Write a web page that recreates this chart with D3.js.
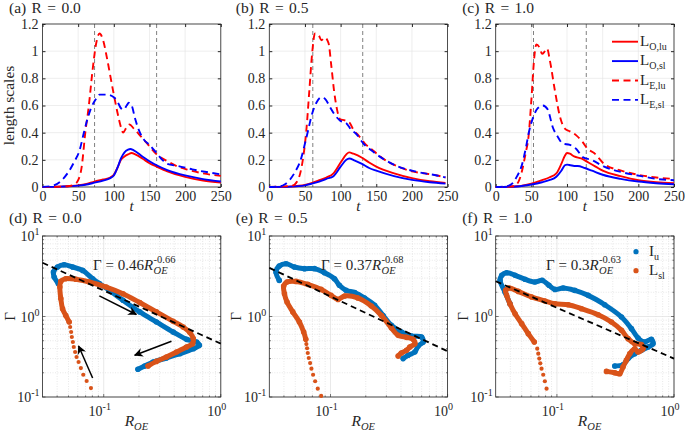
<!DOCTYPE html>
<html><head><meta charset="utf-8">
<script src="https://cdn.jsdelivr.net/npm/d3@7"></script>
<style>
body{margin:0;background:#fff}
</style>
</head><body><svg id="c" width="685" height="434"></svg>
<script>
// ---------- top panels: length scales vs t ----------
const panelTitlesTop = ["(a) R = 0.0", "(b) R = 0.5", "(c) R = 1.0"];
const panelTitlesBot = ["(d) R = 0.0", "(e) R = 0.5", "(f) R = 1.0"];
const tTicks = [0, 50, 100, 150, 200, 250];
const lTicks = [0, 0.2, 0.4, 0.6, 0.8, 1, 1.2];

// panel a
const a_LOlu = [[0,0],[25,0.003],[50,0.012],[60,0.02],[73,0.04],[85,0.055],[95,0.07],[100,0.09],[105,0.14],[110,0.2],[115,0.225],[120,0.24],[125,0.25],[130,0.24],[140,0.21],[150,0.175],[160,0.15],[175,0.115],[200,0.075],[225,0.048],[250,0.032]];
const a_LOsl = [[0,0],[25,0.003],[50,0.01],[60,0.017],[73,0.032],[85,0.047],[95,0.065],[100,0.085],[105,0.14],[110,0.21],[115,0.255],[120,0.275],[123,0.28],[128,0.27],[140,0.225],[150,0.19],[160,0.16],[175,0.125],[200,0.085],[225,0.058],[250,0.04]];
const a_LElu = [[0,0],[35,0.005],[45,0.02],[50,0.05],[55,0.15],[60,0.4],[65,0.6],[70,0.85],[75,1.05],[80,1.13],[85,1.08],[90,0.96],[95,0.82],[100,0.68],[105,0.55],[110,0.44],[113,0.4],[118,0.44],[122,0.46],[128,0.43],[135,0.39],[145,0.33],[160,0.24],[175,0.19],[190,0.15],[205,0.125],[225,0.1],[250,0.082]];
const a_LEsl = [[0,0],[15,0.01],[25,0.04],[35,0.1],[45,0.19],[52,0.27],[58,0.4],[63,0.5],[68,0.58],[74,0.64],[80,0.68],[90,0.68],[100,0.66],[105,0.63],[110,0.58],[114,0.57],[118,0.6],[121,0.62],[125,0.6],[130,0.5],[135,0.42],[142,0.35],[150,0.31],[160,0.25],[168,0.2],[175,0.17],[190,0.155],[210,0.13],[230,0.11],[250,0.093]];
const a_vlines = [73, 160];

// panel b
const b_LOlu = [[0,0],[30,0.004],[50,0.015],[60,0.03],[70,0.05],[80,0.07],[90,0.1],[100,0.18],[108,0.24],[112,0.255],[118,0.245],[130,0.215],[140,0.18],[150,0.15],[175,0.1],[200,0.065],[225,0.042],[247,0.03]];
const b_LOsl = [[0,0],[30,0.003],[50,0.012],[60,0.025],[70,0.04],[80,0.06],[90,0.08],[100,0.15],[108,0.2],[112,0.21],[120,0.195],[130,0.17],[140,0.14],[150,0.12],[175,0.08],[200,0.052],[225,0.035],[247,0.025]];
const b_LElu = [[0,0],[32,0.01],[40,0.05],[47,0.2],[52,0.42],[56,0.7],[60,0.98],[64,1.13],[69,1.12],[73,1.08],[78,1.1],[83,1.06],[87,0.89],[91,0.7],[95,0.57],[99,0.5],[106,0.49],[113,0.47],[118,0.42],[125,0.38],[134,0.32],[143,0.28],[162,0.2],[181,0.15],[200,0.115],[218,0.1],[235,0.085],[247,0.07]];
const b_LEsl = [[0,0],[15,0.005],[22,0.02],[36,0.11],[44,0.2],[50,0.32],[55,0.43],[59,0.52],[66,0.62],[73,0.66],[78,0.65],[85,0.59],[92,0.53],[99,0.49],[108,0.47],[115,0.42],[122,0.39],[132,0.32],[143,0.27],[162,0.2],[181,0.15],[200,0.12],[218,0.1],[235,0.085],[247,0.07]];
const b_vlines = [61, 131];

// panel c
const c_LOlu = [[0,0],[30,0.005],[50,0.025],[65,0.05],[75,0.07],[85,0.1],[92,0.17],[97,0.23],[100,0.25],[104,0.245],[110,0.225],[120,0.21],[130,0.18],[140,0.15],[150,0.12],[175,0.08],[200,0.05],[225,0.035],[250,0.028]];
const c_LOsl = [[0,0],[30,0.004],[50,0.018],[65,0.035],[75,0.05],[85,0.075],[92,0.12],[97,0.16],[100,0.165],[105,0.16],[110,0.155],[115,0.155],[125,0.14],[135,0.12],[150,0.09],[175,0.06],[200,0.04],[225,0.028],[250,0.02]];
const c_LElu = [[0,0],[25,0.005],[32,0.04],[36,0.1],[42,0.25],[46,0.37],[50,0.64],[54,0.95],[57,1.05],[62,1.02],[65,0.98],[69,1.0],[72,1.02],[76,0.93],[83,0.71],[90,0.52],[97,0.43],[104,0.41],[113,0.38],[122,0.33],[129,0.28],[138,0.25],[152,0.17],[176,0.12],[204,0.086],[225,0.07],[250,0.06]];
const c_LEsl = [[0,0],[15,0.005],[22,0.02],[30,0.08],[36,0.15],[42,0.28],[46,0.39],[53,0.52],[59,0.58],[66,0.6],[73,0.57],[80,0.44],[87,0.37],[94,0.32],[104,0.31],[113,0.28],[122,0.22],[134,0.2],[152,0.15],[176,0.11],[204,0.08],[225,0.06],[250,0.05]];
const c_vlines = [53, 127];

const legendTop = [["O,lu","#ff0000",false],["O,sl","#0000ff",false],["E,lu","#ff0000",true],["E,sl","#0000ff",true]];

// ---------- bottom panels: Gamma vs R_OE ----------
const d_lu = [[0.041,2.56],[0.0377,3.1],[0.0372,3.57],[0.0403,4.12],[0.0459,4.4],[0.0542,4.12],[0.066,3.74],[0.0804,2.95],[0.0918,2.56],[0.112,2.11],[0.146,1.59],[0.203,1.14],[0.282,0.855],[0.392,0.642],[0.51,0.52],[0.622,0.482],[0.656,0.438],[0.582,0.398],[0.447,0.345],[0.343,0.305],[0.264,0.272],[0.224,0.243],[0.196,0.221]];
const d_sl = [[0.0507,0.855],[0.0474,1.03],[0.0445,1.25],[0.043,1.67],[0.0422,2.32],[0.043,2.73],[0.0474,2.95],[0.0578,2.9],[0.0753,2.68],[0.105,2.32],[0.146,1.92],[0.203,1.49],[0.282,1.14],[0.392,0.871],[0.477,0.741],[0.545,0.631],[0.582,0.531],[0.574,0.46],[0.51,0.418],[0.419,0.362],[0.343,0.314],[0.282,0.277],[0.239,0.243]];
const d_slTail = [[0.0778,0.129],[0.0715,0.158],[0.0669,0.189],[0.0638,0.229],[0.061,0.272],[0.0586,0.314],[0.057,0.362],[0.0555,0.418],[0.0545,0.482],[0.0534,0.556],[0.0527,0.642],[0.0517,0.741]];
const d_fit = [[0.03,4.65],[1,0.46]];
const d_arrows = [[[0.0918,1.8],[0.19,1.06]],[[0.379,0.492],[0.184,0.33]],[[0.0804,0.172],[0.061,0.43]]];

const e_lu = [[0.0365,2.81],[0.0342,3.57],[0.0365,4.24],[0.0417,4.53],[0.0491,4.12],[0.0598,3.93],[0.0729,3.93],[0.0889,3.5],[0.108,2.95],[0.119,2.44],[0.136,2.11],[0.161,1.98],[0.195,1.7],[0.238,1.38],[0.281,1.03],[0.331,0.776],[0.403,0.642],[0.491,0.573],[0.599,0.556],[0.619,0.482],[0.561,0.43],[0.525,0.362],[0.46,0.33],[0.417,0.3]];
const e_sl = [[0.0615,0.52],[0.059,0.642],[0.0542,0.855],[0.0476,1.14],[0.0425,1.51],[0.0404,1.92],[0.0398,2.39],[0.0425,2.68],[0.0508,2.73],[0.064,2.51],[0.0832,2.17],[0.101,1.83],[0.116,1.63],[0.132,1.8],[0.171,1.7],[0.223,1.35],[0.272,1.03],[0.331,0.72],[0.378,0.583],[0.446,0.551],[0.508,0.52],[0.525,0.46],[0.476,0.418],[0.446,0.38],[0.403,0.352],[0.378,0.323]];
const e_slTail = [[0.0832,0.103],[0.0778,0.127],[0.0739,0.157],[0.071,0.189],[0.0687,0.225],[0.067,0.264],[0.0652,0.305],[0.0639,0.352],[0.0631,0.403],[0.0622,0.455]];
const e_fit = [[0.03,4.02],[1,0.37]];

const f_lu = [[0.0397,1.44],[0.036,2.01],[0.0327,2.81],[0.0338,3.25],[0.0372,3.5],[0.0439,3.25],[0.0534,2.9],[0.0649,2.68],[0.075,2.81],[0.0855,2.44],[0.0962,2.17],[0.113,2.26],[0.142,2.11],[0.185,1.83],[0.256,1.4],[0.356,0.986],[0.433,0.706],[0.493,0.541],[0.562,0.482],[0.641,0.52],[0.662,0.46],[0.6,0.418],[0.526,0.38],[0.462,0.345],[0.405,0.3],[0.367,0.252],[0.312,0.243]];
const f_sl = [[0.0641,0.482],[0.0569,0.612],[0.05,0.815],[0.0439,1.08],[0.0397,1.44],[0.0372,1.83],[0.0365,2.11],[0.039,2.26],[0.0468,2.05],[0.0608,1.75],[0.0789,1.56],[0.0962,1.44],[0.125,1.4],[0.162,1.25],[0.225,1.05],[0.292,0.855],[0.356,0.673],[0.405,0.531],[0.462,0.46],[0.526,0.447],[0.544,0.398],[0.493,0.362],[0.462,0.398],[0.419,0.345],[0.392,0.286],[0.367,0.236],[0.344,0.195],[0.312,0.2],[0.265,0.208]];
const f_slTail = [[0.0816,0.127],[0.0789,0.157],[0.0764,0.189],[0.0739,0.225],[0.0721,0.262],[0.0707,0.3],[0.0693,0.345],[0.0679,0.398]];
const f_fit = [[0.03,2.74],[1,0.3]];

const fitLabels = [["0.46","-0.66"],["0.37","-0.68"],["0.3","-0.63"]];
const legendBot = [["I","u","#0072BD"],["L","sl","#D95319"]];

// ---------- layout ----------
const FONT = "Liberation Serif";
const svg = d3.select("#c");
const W = 178.3;
const lefts = [42.5, 269.3, 495.7];
const topT = 24, topB = 187, botT = 236, botB = 397;
const AX = "#262626";
const fs = 14;

const defs = svg.append("defs");
defs.append("marker").attr("id","arrow").attr("viewBox","0 0 10 10").attr("refX",9).attr("refY",5)
  .attr("markerWidth",9).attr("markerHeight",9).attr("markerUnits","userSpaceOnUse").attr("orient","auto")
  .append("path").attr("d","M0,0 L10,5 L0,10 L3,5 Z").attr("fill","#000");

function topPanel(i, data, vlines) {
  const l = lefts[i];
  const x = d3.scaleLinear([0,250],[l,l+W]);
  const y = d3.scaleLinear([0,1.2],[topB,topT]);
  const g = svg.append("g");
  g.selectAll(".gx").data(tTicks).join("line").attr("x1",d=>x(d)).attr("x2",d=>x(d)).attr("y1",topT).attr("y2",topB).attr("stroke","#e3e3e3").attr("stroke-width",0.6);
  g.selectAll(".gy").data(lTicks).join("line").attr("y1",d=>y(d)).attr("y2",d=>y(d)).attr("x1",l).attr("x2",l+W).attr("stroke","#e3e3e3").attr("stroke-width",0.6);
  g.selectAll(".vl").data(vlines).join("line").attr("x1",d=>x(d)).attr("x2",d=>x(d)).attr("y1",topT).attr("y2",topB)
    .attr("stroke","#808080").attr("stroke-width",1).attr("stroke-dasharray","4,3");
  const ax = (gen, tr) => { const a = g.append("g").attr("transform",tr).call(gen); a.attr("font-family",FONT); a.select(".domain").remove(); a.selectAll("line").attr("stroke",AX); a.selectAll("text").attr("font-size",fs).attr("fill",AX); return a; };
  ax(d3.axisBottom(x).tickValues(tTicks).tickSize(-3).tickPadding(4).tickFormat(d3.format("d")), `translate(0,${topB})`);
  ax(d3.axisTop(x).tickValues(tTicks).tickSize(-3).tickFormat(""), `translate(0,${topT})`);
  ax(d3.axisLeft(y).tickValues(lTicks).tickSize(-3).tickPadding(4).tickFormat(d=>d3.format("~g")(d)), `translate(${l},0)`);
  ax(d3.axisRight(y).tickValues(lTicks).tickSize(-3).tickFormat(""), `translate(${l+W},0)`);
  g.append("rect").attr("x",l).attr("y",topT).attr("width",W).attr("height",topB-topT).attr("fill","none").attr("stroke",AX).attr("stroke-width",0.8);
  const line = d3.line().x(d=>x(d[0])).y(d=>y(d[1])).curve(d3.curveMonotoneX);
  const styles = [["#ff0000",null],["#0000ff",null],["#ff0000","7,4.5"],["#0000ff","7,4.5"]];
  data.forEach((s,k)=>{
    g.append("path").datum(s).attr("d",line).attr("fill","none").attr("stroke",styles[k][0]).attr("stroke-width",1.9)
      .attr("stroke-dasharray",styles[k][1]);
  });
  svg.append("text").attr("x",l-33.5).attr("y",13).attr("font-size",15.5).attr("word-spacing",1.5).text(panelTitlesTop[i]);
  svg.append("text").attr("x",l+W/2).attr("y",211).attr("text-anchor","middle").attr("font-size",15).attr("font-style","italic").text("t");
  if (i===0) svg.append("text").attr("transform",`translate(14,${(topT+topB)/2}) rotate(-90)`).attr("text-anchor","middle").attr("font-size",15.5).text("length scales");
}

topPanel(0,[a_LOlu,a_LOsl,a_LElu,a_LEsl],a_vlines);
topPanel(1,[b_LOlu,b_LOsl,b_LElu,b_LEsl],b_vlines);
topPanel(2,[c_LOlu,c_LOsl,c_LElu,c_LEsl],c_vlines);

legendTop.forEach((d,k)=>{
  const yy = 41.7 + k*19.4;
  svg.append("line").attr("x1",612).attr("x2",638).attr("y1",yy).attr("y2",yy).attr("stroke",d[1]).attr("stroke-width",1.9).attr("stroke-dasharray",d[2]?"7,4.5":null);
  const t = svg.append("text").attr("x",640).attr("y",yy+4).attr("font-size",15);
  t.append("tspan").text("L");
  t.append("tspan").attr("dy",4).attr("font-size",10).text(d[0]);
});

function supLabel(sel, base, sup) {
  sel.append("tspan").text(base);
  sel.append("tspan").attr("dy",-6).attr("font-size",10).text(sup);
}

function botPanel(i, lu, sl, tail, fit, arrows) {
  const l = lefts[i];
  const x = d3.scaleLog([0.03,1],[l,l+W]);
  const y = d3.scaleLog([0.1,10],[botB,botT]);
  const g = svg.append("g");
  const xMinor = [0.04,0.05,0.06,0.07,0.08,0.09,0.2,0.3,0.4,0.5,0.6,0.7,0.8,0.9];
  const yMinor = [0.2,0.3,0.4,0.5,0.6,0.7,0.8,0.9,2,3,4,5,6,7,8,9];
  const xMajor = [0.1,1], yMajor = [0.1,1,10];
  g.selectAll(".mx").data(xMinor).join("line").attr("x1",d=>x(d)).attr("x2",d=>x(d)).attr("y1",botT).attr("y2",botB).attr("stroke","#d8d8d8").attr("stroke-width",0.6).attr("stroke-dasharray","1,1.5");
  g.selectAll(".my").data(yMinor).join("line").attr("y1",d=>y(d)).attr("y2",d=>y(d)).attr("x1",l).attr("x2",l+W).attr("stroke","#d8d8d8").attr("stroke-width",0.6).attr("stroke-dasharray","1,1.5");
  g.selectAll(".Mx").data(xMajor).join("line").attr("x1",d=>x(d)).attr("x2",d=>x(d)).attr("y1",botT).attr("y2",botB).attr("stroke","#e0e0e0").attr("stroke-width",0.7);
  g.selectAll(".My").data(yMajor).join("line").attr("y1",d=>y(d)).attr("y2",d=>y(d)).attr("x1",l).attr("x2",l+W).attr("stroke","#e0e0e0").attr("stroke-width",0.7);
  const tk = (vals, len, horiz) => vals.forEach(v=>{
    if (horiz) { g.append("line").attr("x1",x(v)).attr("x2",x(v)).attr("y1",botB).attr("y2",botB-len).attr("stroke",AX).attr("stroke-width",0.6);
                 g.append("line").attr("x1",x(v)).attr("x2",x(v)).attr("y1",botT).attr("y2",botT+len).attr("stroke",AX).attr("stroke-width",0.6); }
    else { g.append("line").attr("y1",y(v)).attr("y2",y(v)).attr("x1",l).attr("x2",l+len).attr("stroke",AX).attr("stroke-width",0.6);
           g.append("line").attr("y1",y(v)).attr("y2",y(v)).attr("x1",l+W).attr("x2",l+W-len).attr("stroke",AX).attr("stroke-width",0.6); }
  });
  tk(xMinor,1.6,true); tk(xMajor,3,true); tk(yMinor,1.6,false); tk(yMajor,3,false);
  g.append("rect").attr("x",l).attr("y",botT).attr("width",W).attr("height",botB-botT).attr("fill","none").attr("stroke",AX).attr("stroke-width",0.8);
  xMajor.forEach(v=>{ const t=svg.append("text").attr("x",x(v)-4).attr("y",botB+19).attr("text-anchor","middle").attr("font-size",fs); supLabel(t,"10",String(Math.round(Math.log10(v)))); });
  yMajor.forEach(v=>{ const t=svg.append("text").attr("x",l-3).attr("y",y(v)+5).attr("text-anchor","end").attr("font-size",fs); supLabel(t,"10",String(Math.round(Math.log10(v)))); });
  const line = d3.line().x(d=>x(d[0])).y(d=>y(d[1])).curve(d3.curveCatmullRom.alpha(0.5));
  const drawSeries = (s,col) => {
    g.append("path").datum(s).attr("d",line).attr("fill","none").attr("stroke",col).attr("stroke-width",5).attr("stroke-linejoin","round").attr("stroke-linecap","round");
    g.selectAll(null).data(s).join("circle").attr("cx",d=>x(d[0])).attr("cy",d=>y(d[1])).attr("r",2.8).attr("fill",col);
  };
  drawSeries(lu,"#0072BD");
  drawSeries(sl,"#D95319");
  g.selectAll(null).data(tail).join("circle").attr("cx",d=>x(d[0])).attr("cy",d=>y(d[1])).attr("r",2.1).attr("fill","#D95319");
  g.append("line").attr("x1",x(fit[0][0])).attr("y1",y(fit[0][1])).attr("x2",x(fit[1][0])).attr("y2",y(fit[1][1]))
    .attr("stroke","#000").attr("stroke-width",1.8).attr("stroke-dasharray","6,4");
  (arrows||[]).forEach(a=>{
    g.append("line").attr("x1",x(a[0][0])).attr("y1",y(a[0][1])).attr("x2",x(a[1][0])).attr("y2",y(a[1][1]))
      .attr("stroke","#000").attr("stroke-width",1.5).attr("marker-end","url(#arrow)");
  });
  const fx = [93, 321, 546][i], fy = 270;
  const ft = svg.append("text").attr("x",fx).attr("y",fy).attr("font-size",15).attr("font-family",FONT);
  ft.append("tspan").text("Γ = " + fitLabels[i][0]);
  ft.append("tspan").attr("font-style","italic").text("R");
  const w = ft.node().getComputedTextLength();
  svg.append("text").attr("x",fx+w+0.5).attr("y",fy+4).attr("font-size",10.5).attr("font-style","italic").text("OE");
  svg.append("text").attr("x",fx+w+0.5).attr("y",fy-7).attr("font-size",10.5).text(fitLabels[i][1]);
  svg.append("text").attr("x",l-33.5).attr("y",223).attr("font-size",15.5).attr("word-spacing",1.5).text(panelTitlesBot[i]);
  const xl = svg.append("text").attr("x",l+W/2-7).attr("y",426).attr("font-size",15.5).attr("font-style","italic");
  xl.append("tspan").text("R");
  xl.append("tspan").attr("dy",3.5).attr("font-size",10.5).text("OE");
  svg.append("text").attr("transform",`translate(${l-28},${(botT+botB)/2}) rotate(-90)`).attr("text-anchor","middle").attr("font-size",15).text("Γ");
}

botPanel(0,d_lu,d_sl,d_slTail,d_fit,d_arrows);
botPanel(1,e_lu,e_sl,e_slTail,e_fit,null);
botPanel(2,f_lu,f_sl,f_slTail,f_fit,null);

legendBot.forEach((d,k)=>{
  const yy = 251.7 + k*19;
  svg.append("circle").attr("cx",636).attr("cy",yy).attr("r",2.6).attr("fill",d[2]);
  const t = svg.append("text").attr("x",649).attr("y",yy+4).attr("font-size",15);
  t.append("tspan").text(d[0]);
  t.append("tspan").attr("dy",4).attr("font-size",10).text(d[1]);
});

svg.selectAll("text").style("font-family",FONT).attr("fill",AX);
</script>
</body></html>
